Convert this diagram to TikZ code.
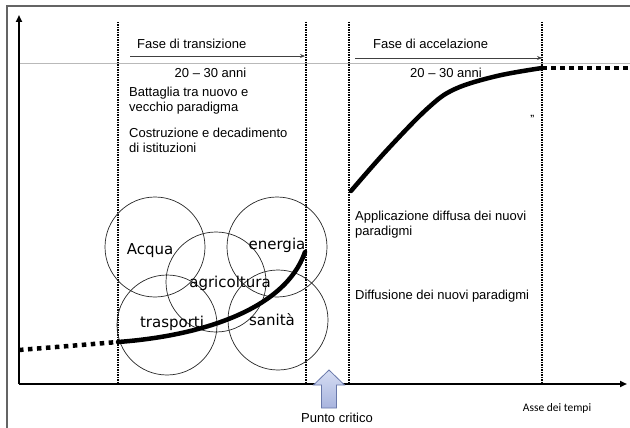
\documentclass[tikz,border=0pt]{standalone}
\usepackage{fontspec}
\setmainfont{Liberation Sans}
\newfontfamily\circfont{DejaVu Sans}
\newfontfamily\calfont{Carlito}
\usetikzlibrary{arrows.meta}
\definecolor{framegray}{RGB}{100,100,100}
\definecolor{guidegray}{RGB}{185,185,185}
\definecolor{crittop}{RGB}{214,221,243}
\definecolor{critbot}{RGB}{168,180,222}
\definecolor{critdraw}{RGB}{105,120,170}
\tikzset{
  lbl/.style={anchor=west,inner sep=0pt,font=\fontsize{13}{15}\selectfont,align=left},
  clbl/.style={inner sep=0pt,font=\circfont\fontsize{15}{17}\selectfont},
  circ/.style={draw=black!85,line width=0.7pt,circle,minimum size=100pt,inner sep=0pt},
  vdots/.style={line width=1.9pt,dash pattern=on 1.3pt off 1.2pt},
  axis/.style={line width=1.8pt,-{Triangle[length=7pt,width=6pt]}},
  phase/.style={draw=black!75,line width=0.9pt,-{Stealth[length=5pt,width=4pt]}},
  curve/.style={line width=4.5pt,line cap=round,line join=round},
  dcurve/.style={line width=4.5pt,dash pattern=on 4.5pt off 4.5pt}
}
\begin{document}
\begin{tikzpicture}[x=1pt,y=-1pt]
\useasboundingbox (0,0) rectangle (630,428);
% frame
\draw[framegray,line width=1.5pt] (7,430) -- (7,6) -- (632,6);
% guide line
\draw[guidegray,line width=0.8pt] (20,63) -- (630,63);
% axes
\coordinate (O) at (19,384);
\coordinate (Ytop) at (19,15);
\coordinate (Xend) at (627,384);
\draw[axis] (O) -- (Ytop);
\draw[axis] (O) -- (Xend);
% dotted verticals
\foreach \n/\x in {v1/118,v2/306,v3/349,v4/542}{
  \coordinate (\n t) at (\x,22);
  \coordinate (\n b) at (\x,383);
  \draw[vdots] (\n t) -- (\n b);
}
% circles
\node[circ] (cA) at (155,247) {};
\node[circ] (cE) at (277,247) {};
\node[circ] (cG) at (216,282) {};
\node[circ] (cT) at (167,325) {};
\node[circ] (cS) at (278,320) {};
\node[clbl] (tA) at (150,251) {Acqua};
\node[clbl] (tE) at (277,245) {energia};
\node[clbl] (tG) at (230,283) {agricoltura};
\node[clbl] (tT) at (172,323) {trasporti};
\node[clbl] (tS) at (272,320) {sanità};
% curve
\coordinate (d1) at (19,350);
\coordinate (c1) at (118,342);
\coordinate (c2) at (305,252);
\coordinate (c3) at (351,191);
\coordinate (c4) at (542,68);
\coordinate (d2) at (630,68);
\draw[dcurve] (d1) -- (c1);
\draw[curve] (c1) .. controls (200,336) and (285,310) .. (c2);
\draw[curve] plot[smooth,tension=0.6] coordinates {(c3) (387,150) (428,108) (455,89) (497,76) (c4)};
\draw[dcurve] (c4) -- (d2);
% phase headers
\node[lbl] (f1) at (137,44) {Fase di transizione};
\coordinate (a1s) at (130,56);
\coordinate (a1e) at (305,56);
\draw[phase] (a1s) -- (a1e);
\node[lbl,anchor=center] (y1) at (210.5,73) {20 – 30 anni};
\node[lbl] (b1) at (129,100.5) {Battaglia tra nuovo e\\vecchio paradigma};
\node[lbl] (b2) at (129,140.5) {Costruzione e decadimento\\di istituzioni};
\node[lbl] (f2) at (373,44) {Fase di accelazione};
\coordinate (a2s) at (355,58);
\coordinate (a2e) at (542,58);
\draw[phase] (a2s) -- (a2e);
\node[lbl,anchor=center] (y2) at (446,73) {20 – 30 anni};
\node[lbl,font=\bfseries\fontsize{9}{10}\selectfont] (q) at (530,118) {"};
\node[lbl] (p1) at (355,225) {Applicazione diffusa dei nuovi\\paradigmi};
\node[lbl] (p2) at (355,296) {Diffusione dei nuovi paradigmi};
% critical point arrow
\coordinate (crit) at (329,370);
\shade[top color=crittop,bottom color=critbot,draw=critdraw,line width=0.8pt,line join=miter]
  (crit) -- ++(15.5,15) -- ++(-8,0) -- ++(0,23) -- ++(-15,0) -- ++(0,-23) -- ++(-8,0) -- cycle;
\node[lbl,anchor=center] (pc) at (337,418) {Punto critico};
\node[inner sep=0pt,font=\calfont\fontsize{11.5}{13}\selectfont] (asse) at (557,408) {Asse dei tempi};
\end{tikzpicture}
\end{document}
